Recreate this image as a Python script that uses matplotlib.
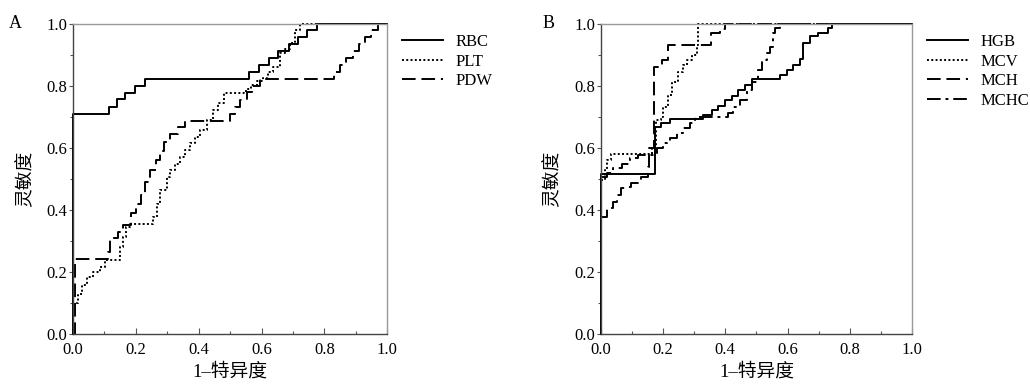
import matplotlib.pyplot as plt
from matplotlib.ticker import MultipleLocator

# ---- data (fpr = 1-特异度, tpr = 灵敏度) ----
rbc_fpr = [0, 0, 0.116, 0.139, 0.167, 0.198, 0.229, 0.561, 0.592, 0.624, 0.654, 0.686, 0.715, 0.746, 0.776, 1.0]
rbc_tpr = [0, 0.71, 0.733, 0.757, 0.778, 0.80, 0.823, 0.846, 0.868, 0.89, 0.912, 0.935, 0.957, 0.98, 1.0, 1.0]

plt_fpr = [0, 0.0, 0.006, 0.017, 0.028, 0.044, 0.065, 0.086, 0.102, 0.15, 0.16, 0.17, 0.18, 0.256, 0.267,
           0.277, 0.298, 0.309, 0.325, 0.341, 0.357, 0.373, 0.388, 0.404, 0.426, 0.447, 0.463, 0.479, 0.55,
           0.568, 0.585, 0.606, 0.622, 0.638, 0.659, 0.675, 0.691, 0.707, 0.723, 1.0]
plt_tpr = [0, 0.067, 0.10, 0.13, 0.158, 0.185, 0.20, 0.217, 0.239, 0.28, 0.314, 0.346, 0.355, 0.378, 0.42,
           0.465, 0.507, 0.529, 0.55, 0.572, 0.594, 0.615, 0.637, 0.658, 0.69, 0.723, 0.745, 0.776, 0.79,
           0.803, 0.815, 0.825, 0.845, 0.862, 0.905, 0.92, 0.938, 0.98, 1.0, 1.0]

pdw_fpr = [0, 0.006, 0.112, 0.118, 0.144, 0.16, 0.184, 0.2, 0.215, 0.23, 0.245, 0.264, 0.277, 0.29, 0.309,
           0.334, 0.357, 0.5, 0.515, 0.53, 0.553, 0.57, 0.596, 0.83, 0.85, 0.87, 0.89, 0.91, 0.93, 0.95, 0.97, 1.0]
pdw_tpr = [0, 0.241, 0.265, 0.309, 0.33, 0.352, 0.39, 0.42, 0.45, 0.49, 0.53, 0.56, 0.59, 0.62, 0.645,
           0.668, 0.688, 0.71, 0.733, 0.755, 0.78, 0.80, 0.823, 0.846, 0.868, 0.89, 0.912, 0.935, 0.957, 0.98, 1.0, 1.0]

hgb_fpr = [0, 0, 0.175, 0.195, 0.221, 0.33, 0.356, 0.378, 0.399, 0.42, 0.442, 0.463, 0.485, 0.576, 0.597,
           0.618, 0.64, 0.65, 0.672, 0.699, 0.731, 0.742, 1.0]
hgb_tpr = [0, 0.516, 0.669, 0.68, 0.693, 0.706, 0.723, 0.735, 0.755, 0.768, 0.787, 0.803, 0.823, 0.835, 0.852,
           0.868, 0.886, 0.938, 0.96, 0.97, 0.986, 1.0, 1.0]

mcv_fpr = [0, 0, 0.013, 0.02, 0.034, 0.164, 0.179, 0.195, 0.2, 0.217, 0.228, 0.249, 0.265, 0.276, 0.292,
           0.308, 0.313, 1.0]
mcv_tpr = [0, 0.497, 0.53, 0.561, 0.58, 0.60, 0.69, 0.70, 0.733, 0.771, 0.814, 0.846, 0.868, 0.884, 0.90,
           0.932, 1.0, 1.0]

mch_fpr = [0, 0, 0.019, 0.04, 0.051, 0.066, 0.078, 0.098, 0.13, 0.152, 0.155, 0.172, 0.196, 0.217, 0.355,
           0.383, 0.399, 1.0]
mch_tpr = [0, 0.378, 0.405, 0.427, 0.448, 0.47, 0.475, 0.486, 0.507, 0.54, 0.60, 0.862, 0.884, 0.934, 0.97,
           0.983, 1.0, 1.0]

mchc_fpr = [0, 0, 0.003, 0.019, 0.04, 0.067, 0.094, 0.121, 0.18, 0.201, 0.222, 0.244, 0.265, 0.287, 0.303,
            0.41, 0.426, 0.447, 0.469, 0.485, 0.506, 0.517, 0.533, 0.543, 0.552, 0.56, 0.575, 1.0]
mchc_tpr = [0, 0.49, 0.507, 0.518, 0.534, 0.55, 0.567, 0.577, 0.599, 0.615, 0.631, 0.647, 0.664, 0.68, 0.70,
            0.712, 0.733, 0.755, 0.787, 0.814, 0.852, 0.884, 0.905, 0.927, 0.97, 0.986, 1.0, 1.0]

panel_a = [('RBC', rbc_fpr, rbc_tpr), ('PLT', plt_fpr, plt_tpr), ('PDW', pdw_fpr, pdw_tpr)]
panel_b = [('HGB', hgb_fpr, hgb_tpr), ('MCV', mcv_fpr, mcv_tpr), ('MCH', mch_fpr, mch_tpr),
           ('MCHC', mchc_fpr, mchc_tpr)]

styles = ['-', (0, (1, 1.2)), (0, (7, 3)), (0, (7, 2.5, 1.5, 2.5))]

serif = ['Liberation Serif', 'Noto Sans CJK SC']
plt.rcParams['font.family'] = serif
plt.rcParams['font.size'] = 12

fig = plt.figure(figsize=(10.3, 3.86), dpi=100)
ax_a = fig.add_axes([0.0709, 0.1347, 0.305, 0.803])
ax_b = fig.add_axes([0.5832, 0.1347, 0.3024, 0.803])

for ax, series in [(ax_a, panel_a), (ax_b, panel_b)]:
    for (name, fpr, tpr), ls in zip(series, styles):
        ax.plot(fpr, tpr, drawstyle='steps-post', color='black', lw=1.4,
                linestyle=ls, label=name, clip_on=False)
    ax.set_xlim(0, 1)
    ax.set_ylim(0, 1)
    ax.xaxis.set_major_locator(MultipleLocator(0.2))
    ax.yaxis.set_major_locator(MultipleLocator(0.2))
    ax.xaxis.set_minor_locator(MultipleLocator(0.1))
    ax.yaxis.set_minor_locator(MultipleLocator(0.1))
    ax.xaxis.set_major_formatter(lambda v, p: f'{v:.1f}')
    ax.yaxis.set_major_formatter(lambda v, p: f'{v:.1f}')
    # x ticks point in, y ticks point out (as in the source figure)
    ax.tick_params(axis='x', which='major', direction='in', length=4, width=0.8, color='#555555',
                   labelsize=12, pad=6)
    ax.tick_params(axis='x', which='minor', direction='in', length=2, width=0.8, color='#555555')
    ax.tick_params(axis='y', which='major', direction='out', length=3, width=0.8, color='#555555',
                   labelsize=12, pad=1)
    ax.tick_params(axis='y', which='minor', direction='out', length=2, width=0.8, color='#555555')
    for side in ['left', 'bottom']:
        ax.spines[side].set_color('#444444')
        ax.spines[side].set_linewidth(1.0)
    for side in ['top', 'right']:
        ax.spines[side].set_color('#999999')
        ax.spines[side].set_linewidth(1.0)
    ax.set_xlabel('1–特异度', fontsize=13.5, labelpad=3)
    ax.set_ylabel('灵敏度', fontsize=13.5, labelpad=9)
    ax.legend(loc='upper left', bbox_to_anchor=(1.02, 0.995), frameon=False, borderpad=0,
              handlelength=2.5, handletextpad=0.7, labelspacing=0.22, fontsize=12)

fig.text(0.009, 0.94, 'A', fontsize=13, ha='left', va='center')
fig.text(0.527, 0.94, 'B', fontsize=13, ha='left', va='center')

fig.savefig('out.png', dpi=100)
